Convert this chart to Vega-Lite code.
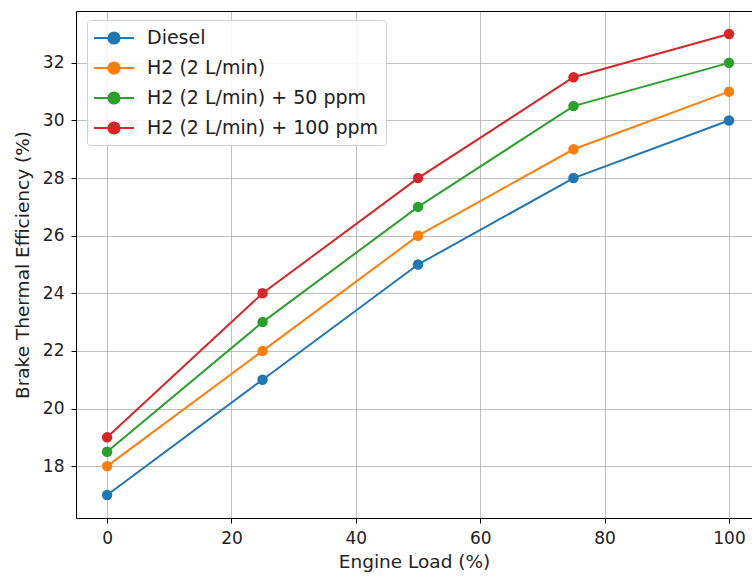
{
  "$schema": "https://vega.github.io/schema/vega-lite/v6.json",
  "width": 676,
  "height": 507,
  "autosize": {"type": "none"},
  "padding": {"left": 76, "top": 11, "right": 0, "bottom": 61},
  "background": "white",
  "data": {"values": [
    {"load": 0, "bte": 17, "fuel": "Diesel"},
    {"load": 25, "bte": 21, "fuel": "Diesel"},
    {"load": 50, "bte": 25, "fuel": "Diesel"},
    {"load": 75, "bte": 28, "fuel": "Diesel"},
    {"load": 100, "bte": 30, "fuel": "Diesel"},
    {"load": 0, "bte": 18, "fuel": "H2 (2 L/min)"},
    {"load": 25, "bte": 22, "fuel": "H2 (2 L/min)"},
    {"load": 50, "bte": 26, "fuel": "H2 (2 L/min)"},
    {"load": 75, "bte": 29, "fuel": "H2 (2 L/min)"},
    {"load": 100, "bte": 31, "fuel": "H2 (2 L/min)"},
    {"load": 0, "bte": 18.5, "fuel": "H2 (2 L/min) + 50 ppm"},
    {"load": 25, "bte": 23, "fuel": "H2 (2 L/min) + 50 ppm"},
    {"load": 50, "bte": 27, "fuel": "H2 (2 L/min) + 50 ppm"},
    {"load": 75, "bte": 30.5, "fuel": "H2 (2 L/min) + 50 ppm"},
    {"load": 100, "bte": 32, "fuel": "H2 (2 L/min) + 50 ppm"},
    {"load": 0, "bte": 19, "fuel": "H2 (2 L/min) + 100 ppm"},
    {"load": 25, "bte": 24, "fuel": "H2 (2 L/min) + 100 ppm"},
    {"load": 50, "bte": 28, "fuel": "H2 (2 L/min) + 100 ppm"},
    {"load": 75, "bte": 31.5, "fuel": "H2 (2 L/min) + 100 ppm"},
    {"load": 100, "bte": 33, "fuel": "H2 (2 L/min) + 100 ppm"}
  ]},
  "config": {
    "font": "DejaVu Sans",
    "view": {"stroke": null},
    "axis": {
      "domainColor": "black",
      "domainWidth": 1,
      "tickColor": "black",
      "tickSize": 5,
      "tickWidth": 1,
      "gridColor": "#b0b0b0",
      "gridWidth": 0.8,
      "labelFontSize": 17,
      "labelColor": "#222",
      "titleFontSize": 18.5,
      "titleFontWeight": "normal",
      "titleColor": "#222",
      "labelPadding": 7
    }
  },
  "resolve": {"axis": {"x": "independent"}},
  "layer": [
    {
      "mark": {"type": "line", "strokeWidth": 2},
      "encoding": {
        "x": {
          "field": "load", "type": "quantitative",
          "scale": {"domain": [-5, 103.7], "nice": false, "zero": false},
          "axis": {"values": [0, 20, 40, 60, 80, 100], "title": "Engine Load (%)", "titlePadding": 6}
        },
        "y": {
          "field": "bte", "type": "quantitative",
          "scale": {"domain": [16.2, 33.8], "nice": false, "zero": false},
          "axis": {"values": [18, 20, 22, 24, 26, 28, 30, 32], "title": "Brake Thermal Efficiency (%)", "titlePadding": 10}
        },
        "color": {
          "field": "fuel", "type": "nominal",
          "scale": {
            "domain": ["Diesel", "H2 (2 L/min)", "H2 (2 L/min) + 50 ppm", "H2 (2 L/min) + 100 ppm"],
            "range": ["#1f77b4", "#ff7f0e", "#2ca02c", "#d62728"]
          },
          "legend": {
            "title": null,
            "orient": "none",
            "legendX": 11,
            "legendY": 9,
            "labelFontSize": 19,
            "labelColor": "#222",
            "labelLimit": 400,
            "rowPadding": 9,
            "symbolType": "M-2,0H2M-0.56,0A0.56,0.56 0 1,1 0.56,0A0.56,0.56 0 1,1 -0.56,0Z",
            "symbolSize": 400,
            "symbolOffset": 9,
            "symbolStrokeWidth": 2,
            "labelOffset": 22,
            "padding": 7,
            "fillColor": "rgba(255,255,255,0.85)",
            "strokeColor": "#d0d0d0",
            "cornerRadius": 3,
            "offset": 0
          }
        }
      }
    },
    {
      "mark": {"type": "point", "filled": true, "size": 110, "opacity": 1},
      "encoding": {
        "x": {
          "field": "load", "type": "quantitative",
          "scale": {"domain": [-5, 103.7], "nice": false, "zero": false},
          "axis": {"orient": "top", "labels": false, "ticks": false, "grid": false, "title": null}
        },
        "y": {"field": "bte", "type": "quantitative"},
        "color": {"field": "fuel", "type": "nominal"}
      }
    }
  ]
}
